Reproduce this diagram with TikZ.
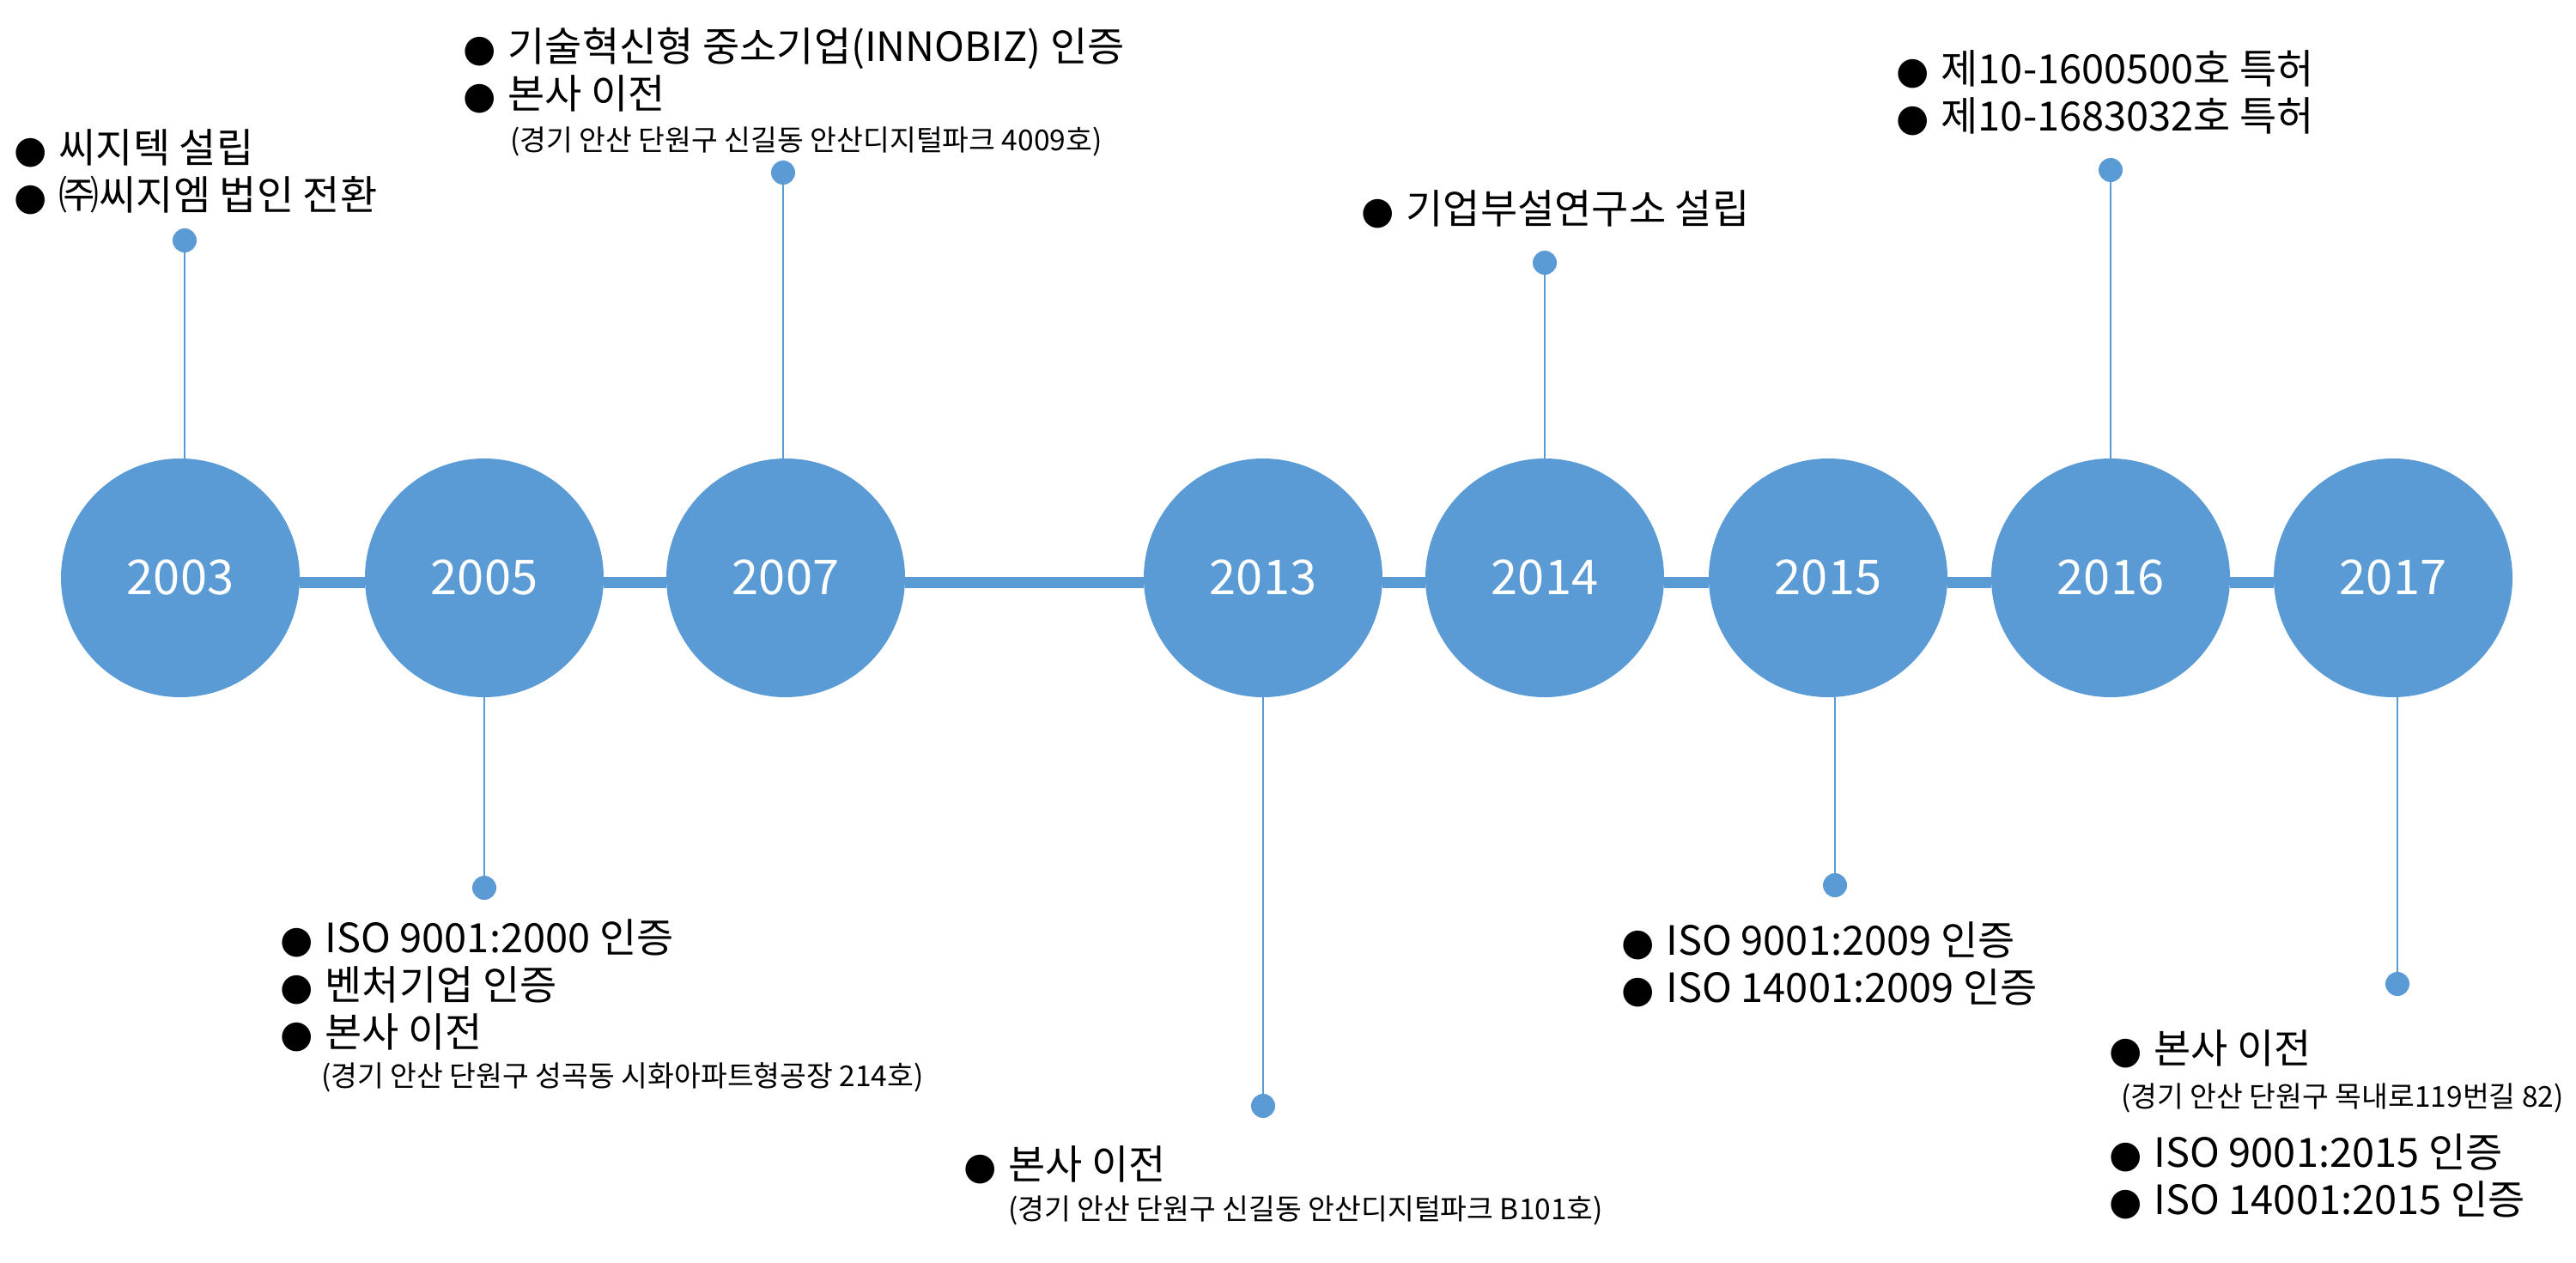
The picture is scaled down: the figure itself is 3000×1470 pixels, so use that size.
\documentclass[tikz,border=0pt]{standalone}
\usepackage{fontspec}
\setmainfont{Noto Sans CJK KR}
\newfontfamily\bulfont{DejaVu Sans}
\definecolor{tlblue}{RGB}{91,155,213}
\newcommand{\bul}{{\bulfont\fontsize{44}{44}\selectfont ●}\hspace{14pt}}
\begin{document}
\begin{tikzpicture}[x=1pt,y=-1pt,line join=round,
		year/.style={circle,fill=tlblue,inner sep=0,minimum size=278,text=white,font=\fontsize{56}{60}\selectfont},
		dot/.style={circle,fill=tlblue,inner sep=0,minimum size=28},
		stem/.style={draw=tlblue,line width=2},
		bar/.style={draw=tlblue,line width=13},
		item/.style={anchor=base west,inner sep=0,font=\fontsize{47}{56}\selectfont},
		addr/.style={anchor=base west,inner sep=0,font=\fontsize{33.5}{40}\selectfont}]
			\useasboundingbox (0,0) rectangle (3000,1470);
			\node[year] (y2003) at (210,673) {2003};
			\node[year] (y2005) at (564,673) {2005};
			\node[year] (y2007) at (915,673) {2007};
			\node[year] (y2013) at (1471,673) {2013};
			\node[year] (y2014) at (1799,673) {2014};
			\node[year] (y2015) at (2129,673) {2015};
			\node[year] (y2016) at (2458,673) {2016};
			\node[year] (y2017) at (2787,673) {2017};
			\draw[bar] ([yshift=-5pt]y2003.east) -- ([yshift=-5pt]y2005.west)
			([yshift=-5pt]y2005.east) -- ([yshift=-5pt]y2007.west)
			([yshift=-5pt]y2007.east) -- ([yshift=-5pt]y2013.west)
			([yshift=-5pt]y2013.east) -- ([yshift=-5pt]y2014.west)
			([yshift=-5pt]y2014.east) -- ([yshift=-5pt]y2015.west)
			([yshift=-5pt]y2015.east) -- ([yshift=-5pt]y2016.west)
			([yshift=-5pt]y2016.east) -- ([yshift=-5pt]y2017.west);
			\node[dot] (d2003) at (215,280) {};
			\node[dot] (d2005) at (564,1034) {};
			\node[dot] (d2007) at (912,201) {};
			\node[dot] (d2013) at (1471,1288) {};
			\node[dot] (d2014) at (1799,306) {};
			\node[dot] (d2015) at (2137,1031) {};
			\node[dot] (d2016) at (2458,198) {};
			\node[dot] (d2017) at (2792,1146) {};
			\draw[stem] (d2003) -- (d2003 |- y2003.north);
			\draw[stem] (d2005) -- (d2005 |- y2005.south);
			\draw[stem] (d2007) -- (d2007 |- y2007.north);
			\draw[stem] (d2013) -- (d2013 |- y2013.south);
			\draw[stem] (d2014) -- (d2014 |- y2014.north);
			\draw[stem] (d2015) -- (d2015 |- y2015.south);
			\draw[stem] (d2016) -- (d2016 |- y2016.north);
			\draw[stem] (d2017) -- (d2017 |- y2017.south);
			\node[item] (t03a) at (16,189) {\bul 씨지텍 설립};
			\node[item] (t03b) at (16,244) {\bul ㈜씨지엠 법인 전환};
			\node[item] (t07a) at (539,71) {\bul 기술혁신형 중소기업(INNOBIZ) 인증};
			\node[item] (t07b) at (539,126) {\bul 본사 이전};
			\node[addr] (a07) at (594,175) {(경기 안산 단원구 신길동 안산디지털파크 4009호)};
			\node[item] (t05a) at (326,1109) {\bul ISO 9001:2000 인증};
			\node[item] (t05b) at (326,1164) {\bul 벤처기업 인증};
			\node[item] (t05c) at (326,1219) {\bul 본사 이전};
			\node[addr] (a05) at (374,1265) {(경기 안산 단원구 성곡동 시화아파트형공장 214호)};
			\node[item] (t13) at (1122,1373) {\bul 본사 이전};
			\node[addr] (a13) at (1174,1420) {(경기 안산 단원구 신길동 안산디지털파크 B101호)};
			\node[item] (t14) at (1585,260) {\bul 기업부설연구소 설립};
			\node[item] (t16a) at (2208,97) {\bul 제10-1600500호 특허};
			\node[item] (t16b) at (2208,152) {\bul 제10-1683032호 특허};
			\node[item] (t15a) at (1888,1112) {\bul ISO 9001:2009 인증};
			\node[item] (t15b) at (1888,1167) {\bul ISO 14001:2009 인증};
			\node[item] (t17a) at (2456,1238) {\bul 본사 이전};
			\node[addr] (a17) at (2470,1289) {(경기 안산 단원구 목내로119번길 82)};
			\node[item] (t17b) at (2456,1359) {\bul ISO 9001:2015 인증};
			\node[item] (t17c) at (2456,1414) {\bul ISO 14001:2015 인증};
		\end{tikzpicture}
\end{document}
